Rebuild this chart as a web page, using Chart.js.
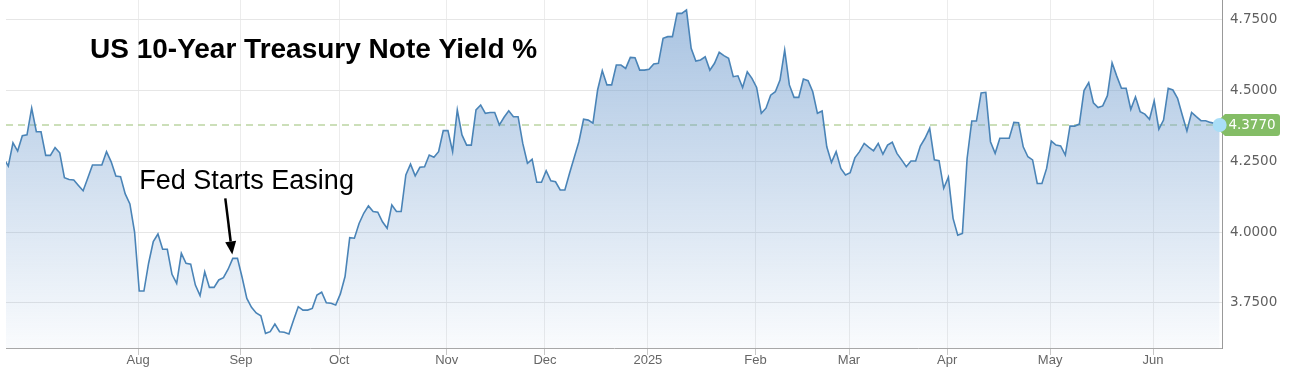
<!DOCTYPE html>
<html>
<head>
  <meta charset="utf-8">
  <title>US 10-Year Treasury Note Yield</title>
  <script src="https://cdn.jsdelivr.net/npm/chart.js"></script>
  <style>
    body {
      margin: 0;
      padding: 0;
      background: #ffffff;
    }
    #wrap {
      width: 1289px;
      height: 390px;
    }
  </style>
</head>
<body>
  <div id="wrap">
    <canvas id="yieldChart" width="1289" height="390"></canvas>
  </div>

  <script>
    // --- data (one point per weekday, 21 Jun 2024 .. 20 Jun 2025) ---
    const chartTitle = 'US 10-Year Treasury Note Yield %';
    const noteText = 'Fed Starts Easing';
    const noteIndex = 49;   // 18 Sep 2024

    const months = ['Aug', 'Sep', 'Oct', 'Nov', 'Dec', '2025', 'Feb', 'Mar', 'Apr', 'May', 'Jun'];
    // index of the first weekday of each month in the yields array
    const monthStart = [29, 51, 72, 95, 116, 138, 161, 181, 202, 224, 246];
    const yTicks = [3.75, 4.00, 4.25, 4.50, 4.75];

    const yields = [
      4.260, 4.232, 4.314, 4.285, 4.339, 4.342, 4.436, 4.353, 4.353, 4.270,
      4.270, 4.297, 4.279, 4.191, 4.185, 4.183, 4.164, 4.145, 4.190, 4.236,
      4.236, 4.236, 4.283, 4.247, 4.197, 4.195, 4.134, 4.099, 4.000, 3.792,
      3.792, 3.890, 3.966, 3.993, 3.939, 3.939, 3.851, 3.819, 3.925, 3.890,
      3.887, 3.813, 3.776, 3.860, 3.805, 3.805, 3.831, 3.839, 3.869, 3.907,
      3.907, 3.840, 3.766, 3.735, 3.715, 3.705, 3.643, 3.649, 3.676, 3.649,
      3.647, 3.641, 3.690, 3.737, 3.725, 3.725, 3.731, 3.778, 3.788, 3.751,
      3.749, 3.743, 3.782, 3.843, 3.980, 3.978, 4.030, 4.066, 4.092, 4.072,
      4.070, 4.036, 4.013, 4.095, 4.072, 4.072, 4.201, 4.239, 4.198, 4.228,
      4.230, 4.271, 4.263, 4.283, 4.357, 4.357, 4.283, 4.430, 4.342, 4.306,
      4.306, 4.430, 4.447, 4.418, 4.421, 4.421, 4.377, 4.404, 4.427, 4.406,
      4.406, 4.312, 4.242, 4.256, 4.175, 4.175, 4.216, 4.180, 4.177, 4.148,
      4.148, 4.207, 4.262, 4.318, 4.397, 4.394, 4.383, 4.500, 4.568, 4.518,
      4.518, 4.588, 4.588, 4.576, 4.615, 4.614, 4.570, 4.570, 4.573, 4.592,
      4.594, 4.682, 4.688, 4.688, 4.770, 4.770, 4.782, 4.647, 4.602, 4.606,
      4.617, 4.570, 4.594, 4.633, 4.621, 4.612, 4.547, 4.550, 4.509, 4.564,
      4.541, 4.509, 4.418, 4.436, 4.482, 4.494, 4.535, 4.641, 4.518, 4.474,
      4.474, 4.539, 4.533, 4.494, 4.418, 4.426, 4.300, 4.245, 4.283, 4.224,
      4.201, 4.209, 4.261, 4.283, 4.312, 4.298, 4.286, 4.312, 4.274, 4.306,
      4.316, 4.277, 4.254, 4.230, 4.250, 4.250, 4.303, 4.330, 4.365, 4.254,
      4.251, 4.154, 4.193, 4.048, 3.989, 3.995, 4.259, 4.391, 4.391, 4.490,
      4.492, 4.318, 4.277, 4.330, 4.330, 4.330, 4.386, 4.385, 4.300, 4.265,
      4.254, 4.171, 4.171, 4.224, 4.320, 4.306, 4.303, 4.271, 4.373, 4.373,
      4.380, 4.498, 4.526, 4.455, 4.438, 4.444, 4.480, 4.596, 4.549, 4.506,
      4.506, 4.432, 4.476, 4.424, 4.415, 4.397, 4.462, 4.362, 4.394, 4.506,
      4.500, 4.471, 4.412, 4.356, 4.421, 4.406, 4.392, 4.392, 4.386, 4.382,
      4.377
    ];
    const lastIndex = yields.length - 1;
    const lastValue = yields[lastIndex];

    const points = yields.map((v, i) => ({ x: i, y: v }));

    // title, "Fed Starts Easing" note, last-price line and badge
    const overlay = {
      id: 'overlay',
      beforeDatasetsDraw(chart) {
        const { ctx, chartArea: a, scales: { y } } = chart;
        const yy = y.getPixelForValue(lastValue);
        ctx.save();
        ctx.strokeStyle = '#bcd5a2';
        ctx.lineWidth = 1.5;
        ctx.setLineDash([7, 5]);
        ctx.beginPath();
        ctx.moveTo(a.left, yy);
        ctx.lineTo(a.right, yy);
        ctx.stroke();
        ctx.restore();
      },
      afterDatasetsDraw(chart) {
        const { ctx, chartArea: a, scales: { x, y } } = chart;
        ctx.save();

        // title
        ctx.fillStyle = '#000';
        ctx.font = 'bold 28px "Liberation Sans", Arial, sans-serif';
        ctx.textAlign = 'left';
        ctx.textBaseline = 'alphabetic';
        ctx.fillText(chartTitle, a.left + 84, 58);

        // note + arrow
        const tipX = x.getPixelForValue(noteIndex) - 0.5;
        const tipY = y.getPixelForValue(yields[noteIndex]) - 4;
        const tailX = tipX - 7, tailY = tipY - 56;
        const ang = Math.atan2(tipY - tailY, tipX - tailX);
        const headLen = 13, headW = 5.5;
        const bx = tipX - headLen * Math.cos(ang), by = tipY - headLen * Math.sin(ang);
        ctx.strokeStyle = '#000';
        ctx.lineWidth = 2.5;
        ctx.beginPath();
        ctx.moveTo(tailX, tailY);
        ctx.lineTo(bx, by);
        ctx.stroke();
        ctx.beginPath();
        ctx.moveTo(tipX, tipY);
        ctx.lineTo(bx + headW * Math.sin(ang), by - headW * Math.cos(ang));
        ctx.lineTo(bx - headW * Math.sin(ang), by + headW * Math.cos(ang));
        ctx.closePath();
        ctx.fill();

        ctx.font = '27px "Liberation Sans", Arial, sans-serif';
        ctx.fillText(noteText, tipX - 93, tipY - 65);

        // last value badge
        const ly = y.getPixelForValue(lastValue);
        const lx = x.getPixelForValue(lastIndex);
        const bL = a.right + 3, bR = a.right + 58, h = 11, r = 3;
        ctx.fillStyle = '#84bd66';
        ctx.beginPath();
        ctx.moveTo(lx - 6, ly);
        ctx.lineTo(bL, ly - h);
        ctx.lineTo(bR - r, ly - h);
        ctx.quadraticCurveTo(bR, ly - h, bR, ly - h + r);
        ctx.lineTo(bR, ly + h - r);
        ctx.quadraticCurveTo(bR, ly + h, bR - r, ly + h);
        ctx.lineTo(bL, ly + h);
        ctx.closePath();
        ctx.fill();

        ctx.fillStyle = '#ffffff';
        ctx.font = '13.5px "DejaVu Sans", sans-serif';
        ctx.textAlign = 'center';
        ctx.textBaseline = 'middle';
        ctx.fillText(lastValue.toFixed(4), bL + 27, ly + 1);

        ctx.fillStyle = '#a9def7';
        ctx.beginPath();
        ctx.arc(lx, ly, 7, 0, Math.PI * 2);
        ctx.fill();

        ctx.restore();
      }
    };

    const ctx = document.getElementById('yieldChart').getContext('2d');
    const chart = new Chart(ctx, {
      type: 'line',
      data: {
        datasets: [{
          data: points,
          borderColor: '#4a84b7',
          borderWidth: 1.6,
          pointRadius: 0,
          tension: 0,
          fill: 'start',
          backgroundColor: (c) => {
            const area = c.chart.chartArea;
            if (!area) return 'rgba(110,155,205,0.3)';
            const g = c.chart.ctx.createLinearGradient(0, area.top, 0, area.bottom);
            g.addColorStop(0, 'rgba(112,156,206,0.62)');
            g.addColorStop(1, 'rgba(112,156,206,0.04)');
            return g;
          }
        }]
      },
      options: {
        responsive: false,
        devicePixelRatio: 1,
        animation: false,
        layout: { padding: { left: 6, top: 0, right: 0, bottom: 0 } },
        plugins: {
          legend: { display: false },
          tooltip: { enabled: false }
        },
        scales: {
          x: {
            type: 'linear',
            min: 0.51,
            max: 260.5,
            afterBuildTicks: (s) => {
              // points are stamped early in the day, so midnight of the month start sits a quarter step before
              s.ticks = monthStart.map(d => ({ value: d - 0.25 }));
            },
            afterFit: (s) => {
              s.height = 42;
              s.paddingLeft = 0;
              s.paddingRight = 0;
            },
            grid: {
              color: '#ececec',
              tickColor: '#c8c8c8',
              tickLength: 7
            },
            border: { color: '#a8a8a8' },
            ticks: {
              autoSkip: false,
              maxRotation: 0,
              padding: -2,
              color: '#666',
              font: { family: '"Liberation Sans", Arial, sans-serif', size: 13 },
              callback: (v, i) => months[i]
            }
          },
          y: {
            position: 'right',
            min: 3.5915,
            max: 4.817,
            afterBuildTicks: (s) => {
              s.ticks = yTicks.map(v => ({ value: v }));
            },
            afterFit: (s) => {
              s.width = 67;
              s.paddingTop = 0;
              s.paddingBottom = 0;
            },
            grid: {
              color: '#e6e6e6',
              drawTicks: false
            },
            border: { color: '#999' },
            ticks: {
              padding: 8,
              color: '#606060',
              font: { family: '"DejaVu Sans", sans-serif', size: 13.5 },
              callback: (v) => Number(v).toFixed(4)
            }
          }
        }
      },
      plugins: [overlay]
    });
  </script>
</body>
</html>
